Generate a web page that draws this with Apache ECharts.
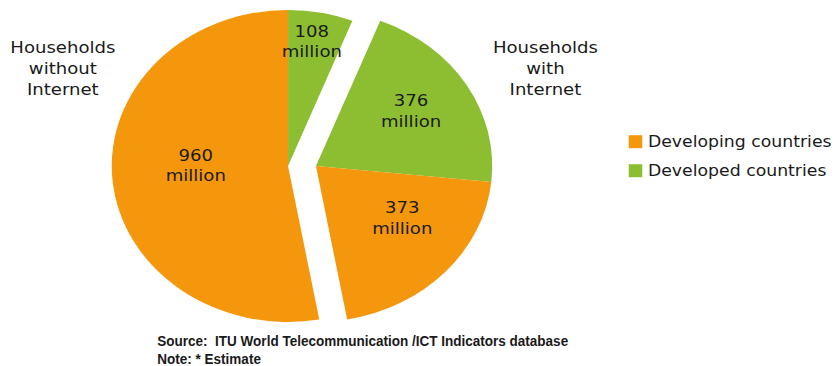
<!DOCTYPE html>
<html>
<head>
<meta charset="utf-8">
<script src="https://cdn.jsdelivr.net/npm/echarts@6/dist/echarts.min.js"></script>
<style>
  html, body { margin: 0; padding: 0; background: #fff; overflow: hidden; }
  /* the pie is drawn slightly wider than tall, so the whole drawing is stretched horizontally */
  #chart { width: 742px; height: 366px; transform: scaleX(1.13); transform-origin: 0 0; }
</style>
</head>
<body>
<div id="chart"></div>
<script>
// Households in millions, slices listed clockwise from 12 o'clock
const sliceValues = [108, 376, 373, 960];
const sliceCountries = ['Developed countries', 'Developed countries', 'Developing countries', 'Developing countries'];
const sliceAccess = ['without', 'with', 'with', 'without'];
const legendNames = ['Developing countries', 'Developed countries'];
const accessTitles = ['Households\nwithout\nInternet', 'Households\nwith\nInternet'];
const sourceLines = ['Source:  ITU World Telecommunication /ICT Indicators database', 'Note: * Estimate'];

const STRETCH = 1.13;
const COLORS = { 'Developing countries': '#F5970C', 'Developed countries': '#8DBE31' };
const TEXT = '#1a1a1a';
const FONT = '"DejaVu Sans", Verdana, sans-serif';

// nudges for the value labels, per slice
const labelShift = [[6, -45], [15, -13], [17, -3], [-1, -8]];

// one pie per access group; the other group's slices stay as invisible spacers
function groupSeries(access, center) {
  return {
    type: 'pie',
    silent: true,
    center: center,
    radius: [0, 156],
    startAngle: 90,
    clockwise: true,
    avoidLabelOverlap: false,
    animation: false,
    itemStyle: { borderWidth: 0 },
    label: {
      show: true,
      position: 'inside',
      formatter: '{c}\nmillion',
      color: TEXT,
      fontFamily: FONT,
      fontSize: 16,
      lineHeight: 20.5,
      align: 'center'
    },
    labelLine: { show: false },
    emphasis: { disabled: true },
    labelLayout: function (p) {
      const s = labelShift[p.dataIndex];
      return { dx: s[0], dy: s[1] };
    },
    data: sliceValues.map(function (v, i) {
      if (sliceAccess[i] === access) {
        return { name: sliceCountries[i], value: v, itemStyle: { color: COLORS[sliceCountries[i]] } };
      }
      return { name: 'spacer ' + i, value: v, itemStyle: { color: 'rgba(0,0,0,0)' }, label: { show: false } };
    })
  };
}

// compress the source note into a narrow bold face
const sourceFont = 'bold 15.5px "Liberation Sans", Arial, sans-serif';
const ctx = document.createElement('canvas').getContext('2d');
ctx.font = sourceFont;
const sourceScale = 411 / (ctx.measureText(sourceLines[0]).width * STRETCH);

const chart = echarts.init(document.getElementById('chart'), null, { renderer: 'svg' });
chart.setOption({
  backgroundColor: '#ffffff',
  animation: false,
  legend: {
    data: legendNames,
    orient: 'vertical',
    left: 551.4,
    top: 128.7,
    icon: 'rect',
    itemWidth: 12,
    itemHeight: 13,
    itemGap: 13,
    selectedMode: false,
    textStyle: { color: TEXT, fontFamily: FONT, fontSize: 15.3, lineHeight: 16 }
  },
  graphic: [
    {
      type: 'text', x: 55.6, y: 68, silent: true,
      style: { text: accessTitles[0], font: '16px ' + FONT, lineHeight: 21, fill: TEXT, textAlign: 'center', textVerticalAlign: 'middle' }
    },
    {
      type: 'text', x: 482.7, y: 68, silent: true,
      style: { text: accessTitles[1], font: '16px ' + FONT, lineHeight: 21, fill: TEXT, textAlign: 'center', textVerticalAlign: 'middle' }
    },
    {
      type: 'text', x: 139.2, y: 349.4, scaleX: sourceScale, silent: true,
      style: { text: sourceLines.join('\n'), font: sourceFont, lineHeight: 18.2, fill: TEXT, textAlign: 'left', textVerticalAlign: 'middle' }
    }
  ],
  series: [
    groupSeries('without', [254.9, 166]),
    groupSeries('with', [279.6, 166])
  ]
});
</script>
</body>
</html>
